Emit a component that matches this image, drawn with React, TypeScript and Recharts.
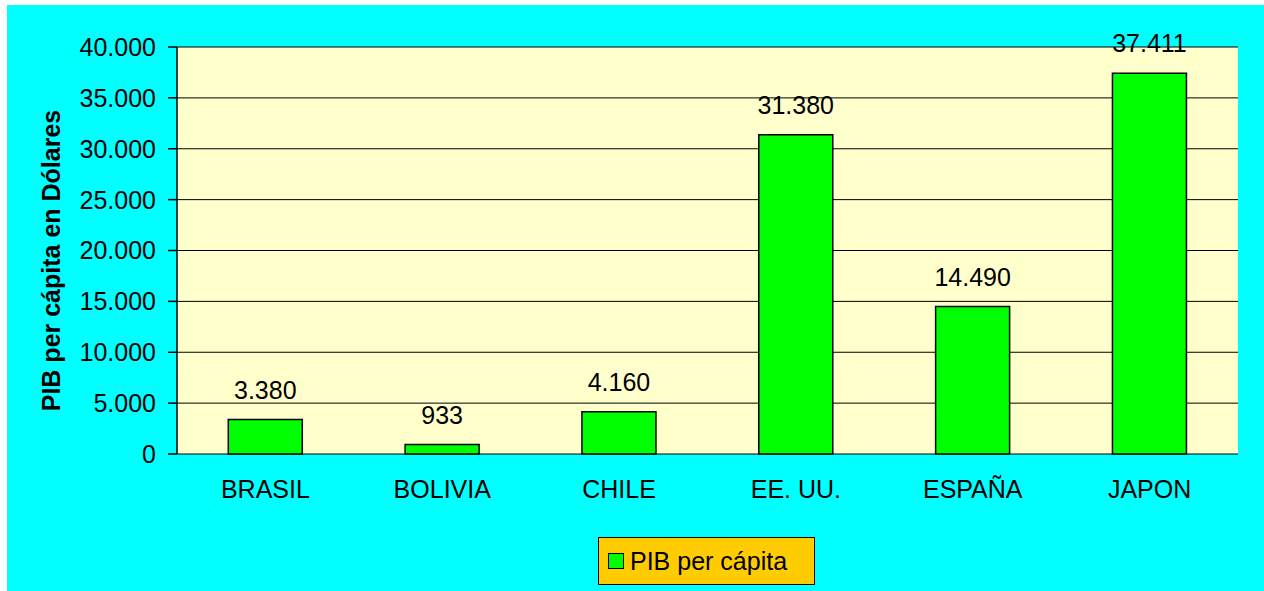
import {
  BarChart,
  Bar,
  XAxis,
  YAxis,
  CartesianGrid,
  LabelList,
  Legend,
} from 'recharts';

const paises = ['BRASIL', 'BOLIVIA', 'CHILE', 'EE. UU.', 'ESPAÑA', 'JAPON'];
const pibPerCapita = [3380, 933, 4160, 31380, 14490, 37411];
const yTicks = [0, 5000, 10000, 15000, 20000, 25000, 30000, 35000, 40000];

const data = paises.map((pais, i) => ({ pais, pib: pibPerCapita[i] }));
// boundaries between categories, for the Excel-style tick marks
const bounds = paises.map((_, i) => i).concat(paises.length);

const font = '"Liberation Sans", Arial, sans-serif';

const fmt = (v: number | string) =>
  String(v).replace(/\B(?=(\d{3})+(?!\d))/g, '.');

function LegendBox() {
  return (
    <div
      style={{
        width: 215,
        height: 46,
        background: '#FFCC00',
        border: '1px solid #000',
        display: 'flex',
        alignItems: 'center',
        fontFamily: font,
        fontSize: 25,
        color: '#000',
      }}
    >
      <span
        style={{
          width: 14,
          height: 14,
          background: '#00FF00',
          border: '1px solid #000',
          marginLeft: 9,
          marginRight: 6,
        }}
      />
      PIB per cápita
    </div>
  );
}

export default function App() {
  return (
    <div
      style={{
        position: 'absolute',
        left: 7,
        top: 5,
        width: 1257,
        height: 586,
        background: '#00FFFF',
      }}
    >
      <BarChart
        width={1257}
        height={586}
        data={data}
        margin={{ top: 42, right: 26, left: 20, bottom: 77 }}
        barCategoryGap="29%"
      >
        <CartesianGrid vertical={false} stroke="#000" fill="#FFFFCC" fillOpacity={1} />
        <XAxis
          xAxisId="top"
          orientation="top"
          dataKey="pais"
          height={0}
          tick={false}
          tickLine={false}
          axisLine={{ stroke: '#808080', strokeWidth: 1.5 }}
        />
        <XAxis
          xAxisId="bounds"
          type="number"
          domain={[0, paises.length]}
          ticks={bounds}
          allowDataOverflow
          height={0}
          tickSize={8}
          tickFormatter={() => ''}
          axisLine={{ stroke: '#000', strokeWidth: 1.5 }}
          tickLine={{ stroke: '#000', strokeWidth: 1.5 }}
        />
        <XAxis
          dataKey="pais"
          height={60}
          tickLine={false}
          axisLine={false}
          tickSize={0}
          tickMargin={26}
          tick={{ fill: '#000', fontSize: 25, fontFamily: font }}
        />
        <YAxis
          width={150}
          domain={[0, 40000]}
          ticks={yTicks}
          tickSize={9}
          tickMargin={12}
          tickFormatter={fmt}
          tick={{ fill: '#000', fontSize: 25, fontFamily: font }}
          axisLine={{ stroke: '#000', strokeWidth: 1.5 }}
          tickLine={{ stroke: '#000', strokeWidth: 1.5 }}
          label={{
            value: 'PIB per cápita en Dólares',
            angle: -90,
            position: 'insideLeft',
            offset: 24,
            dy: 10,
            style: {
              textAnchor: 'middle',
              fontWeight: 'bold',
              fontSize: 25,
              fontFamily: font,
              fill: '#000',
            },
          }}
        />
        <YAxis
          yAxisId="right"
          orientation="right"
          width={0}
          domain={[0, 40000]}
          tick={false}
          tickLine={false}
          axisLine={{ stroke: '#808080', strokeWidth: 1.5 }}
        />
        <Legend
          layout="horizontal"
          verticalAlign="middle"
          align="center"
          content={() => <LegendBox />}
          wrapperStyle={{ top: 532, left: 591, width: 217, height: 48 }}
        />
        <Bar
          dataKey="pib"
          name="PIB per cápita"
          fill="#00FF00"
          stroke="#000"
          strokeWidth={1.5}
          isAnimationActive={false}
        >
          <LabelList
            dataKey="pib"
            position="top"
            offset={21}
            formatter={fmt}
            style={{ fill: '#000', fontSize: 25, fontFamily: font }}
          />
        </Bar>
      </BarChart>
    </div>
  );
}
